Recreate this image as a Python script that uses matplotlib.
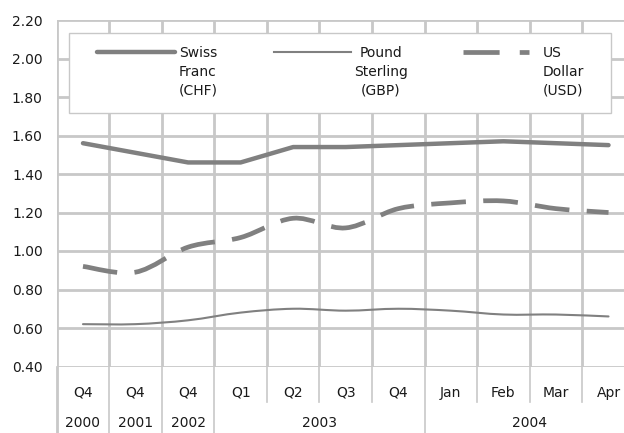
import numpy as np
import matplotlib
matplotlib.use("Agg")
import matplotlib.pyplot as plt
from matplotlib.path import Path
from matplotlib.patches import PathPatch, Rectangle
from matplotlib.lines import Line2D
from matplotlib.transforms import blended_transform_factory

plt.rcParams["font.family"] = "DejaVu Sans"
plt.rcParams["font.size"] = 10
plt.rcParams["lines.scale_dashes"] = False

# Data
periods = ["Q4", "Q4", "Q4", "Q1", "Q2", "Q3", "Q4", "Jan", "Feb", "Mar", "Apr"]
years = ["2000", "2001", "2002", "2003", "2003", "2003", "2003",
         "2004", "2004", "2004", "2004"]
chf = [1.56, 1.51, 1.46, 1.46, 1.54, 1.54, 1.55, 1.56, 1.57, 1.56, 1.55]
gbp = [0.62, 0.62, 0.64, 0.68, 0.70, 0.69, 0.70, 0.69, 0.67, 0.67, 0.66]
usd = [0.92, 0.89, 1.02, 1.07, 1.17, 1.12, 1.22, 1.25, 1.26, 1.22, 1.20]
yticks = [0.40, 0.60, 0.80, 1.00, 1.20, 1.40, 1.60, 1.80, 2.00, 2.20]

W, H = 624, 433
LINE = "#808080"
GRID = "#c8c8c8"
TXT = "#1a1a1a"
FS = 10


def fx(x):
    return x / W


def fy(y):
    return 1 - y / H


def smooth_path(xs, ys):
    """Excel-style smoothed line as cubic Bezier segments."""
    pts = np.column_stack([xs, ys]).astype(float)
    n = len(pts)
    verts = [pts[0]]
    codes = [Path.MOVETO]
    for i in range(n - 1):
        p0 = pts[i - 1] if i > 0 else pts[i]
        p1, p2 = pts[i], pts[i + 1]
        p3 = pts[i + 2] if i + 2 < n else pts[i + 1]
        c1 = p1 + (p2 - p0) / 6.0
        c2 = p2 - (p3 - p1) / 6.0
        verts += [c1, c2, p2]
        codes += [Path.CURVE4] * 3
    return Path(verts, codes)


fig = plt.figure(figsize=(W / 100, H / 100), dpi=100)
left, right, top, bottom = 56.7, 634.8, 20, 366.5
ax = fig.add_axes([fx(left), fy(bottom), fx(right - left), (bottom - top) / H])

n = len(periods)
x = np.arange(n)
ax.set_xlim(-0.5, n - 0.5)
ax.set_ylim(0.40, 2.20)

# grid
ax.set_yticks(yticks)
ax.set_yticklabels([f"{v:.2f}" for v in yticks], color=TXT, fontsize=FS)
ax.set_xticks(np.arange(n + 1) - 0.5)
ax.set_xticklabels([])
ax.tick_params(length=0)
ax.tick_params(axis="y", pad=10)
ax.grid(True, color=GRID, linewidth=2)
for s in ax.spines.values():
    s.set_visible(False)
ax.set_axisbelow(True)

# series
ax.plot(x, chf, color=LINE, linewidth=3.2, solid_capstyle="round",
        solid_joinstyle="round", zorder=3)
ax.add_patch(PathPatch(smooth_path(x, gbp), fill=False, edgecolor=LINE,
                       linewidth=1.5, capstyle="round", zorder=3))
ax.add_patch(PathPatch(smooth_path(x, usd), fill=False, edgecolor=LINE,
                       linewidth=3.4, linestyle=(0, (25, 12.5)),
                       capstyle="butt", zorder=3))

# category axis area
bt = blended_transform_factory(ax.transData, fig.transFigure)
for i, p in enumerate(periods):
    ax.text(i, fy(393), p, transform=bt, ha="center", va="center",
            color=TXT, fontsize=FS)
# year groups
groups = []
start = 0
for i in range(1, n + 1):
    if i == n or years[i] != years[start]:
        groups.append((years[start], start, i - 1))
        start = i
for label, a, b in groups:
    ax.text((a + b) / 2, fy(423), label, transform=bt, ha="center",
            va="center", color=TXT, fontsize=FS)
group_edges = {b + 0.5 for _, _, b in groups} | {-0.5}
for i in range(n + 1):
    xe = i - 0.5
    y_end = fy(H) if xe in group_edges else fy(402)
    fig.add_artist(Line2D([xe, xe], [fy(bottom), y_end], transform=bt,
                          color=GRID, linewidth=1.2 if xe > -0.5 else 2))

# legend box
fig.add_artist(Rectangle((fx(69), fy(113)), fx(611 - 69), (113 - 33) / H,
                         transform=fig.transFigure, facecolor="white",
                         edgecolor=GRID, linewidth=1, zorder=4))
ly = fy(52)
fig.add_artist(Line2D([fx(97), fx(175)], [ly, ly], transform=fig.transFigure,
                      color=LINE, linewidth=3.2, solid_capstyle="round",
                      zorder=5))
fig.add_artist(Line2D([fx(274), fx(351)], [ly, ly], transform=fig.transFigure,
                      color=LINE, linewidth=1.5, zorder=5))
fig.add_artist(Line2D([fx(463), fx(529)], [ly, ly], transform=fig.transFigure,
                      color=LINE, linewidth=3.4, linestyle=(0, (26, 14.5)),
                      solid_capstyle="butt", dash_capstyle="butt", zorder=5))
fig.text(fx(179), fy(46), "Swiss\nFranc\n(CHF)", ha="left", va="top",
         fontsize=FS, color=TXT, linespacing=1.45, zorder=6)
fig.text(fx(381), fy(46), "Pound\nSterling\n(GBP)", ha="center", va="top",
         fontsize=FS, color=TXT, linespacing=1.45, multialignment="center",
         zorder=6)
fig.text(fx(543), fy(46), "US\nDollar\n(USD)", ha="left", va="top",
         fontsize=FS, color=TXT, linespacing=1.45, zorder=6)

fig.savefig("out.png", dpi=100)
